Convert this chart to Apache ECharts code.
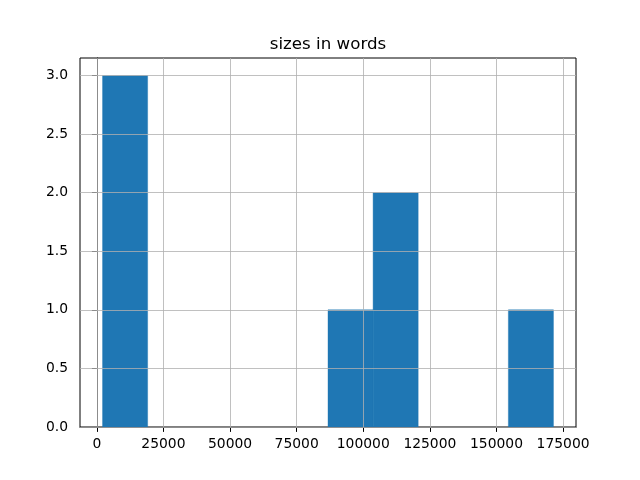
<!DOCTYPE html>
<html>
<head>
<meta charset="utf-8">
<script src="https://cdn.jsdelivr.net/npm/echarts@6/dist/echarts.min.js"></script>
<style>html,body{margin:0;padding:0;background:#fff}#c{width:640px;height:480px}</style>
</head>
<body>
<div id="c"></div>
<script>
// Histogram data (bin edges and counts)
const binStart = 2145;
const binEnd = 171388;
const counts = [3, 0, 0, 0, 0, 1, 2, 0, 0, 1];
const xTicks = [0, 25000, 50000, 75000, 100000, 125000, 150000, 175000];
const yTicks = [0, 0.5, 1.0, 1.5, 2.0, 2.5, 3.0];
const titleText = 'sizes in words';

const nb = counts.length;
const w = (binEnd - binStart) / nb;
const bins = counts.map((c, i) => [binStart + i * w, binStart + (i + 1) * w, c]);
const span = binEnd - binStart;
const xMin = binStart - span * 0.05, xMax = binEnd + span * 0.05;
const yMax = Math.max(...counts) * 1.05;

const font = 'DejaVu Sans';
const chart = echarts.init(document.getElementById('c'), null, {renderer: 'canvas'});
const gridLines = [];
xTicks.forEach(v => gridLines.push({xAxis: v}));
yTicks.forEach(v => gridLines.push({yAxis: v}));

chart.setOption({
  animation: false,
  backgroundColor: '#fff',
  title: {
    text: titleText, left: 323, top: 31, textAlign: 'center',
    textStyle: {fontFamily: font, fontSize: 16.67, fontWeight: 'normal', color: '#000'}
  },
  grid: {left: 80, right: 64, top: 58, bottom: 53, show: true, borderColor: '#000', borderWidth: 1, backgroundColor: 'transparent'},
  xAxis: {
    type: 'value', min: xMin, max: xMax,
    axisLine: {show: true, lineStyle: {color: '#000', width: 1}},
    axisTick: {show: true, length: 4.9, inside: false, lineStyle: {color: '#000', width: 1}, customValues: xTicks},
    axisLabel: {customValues: xTicks, margin: 10, fontFamily: font, fontSize: 13.89, color: '#000', formatter: v => String(v)},
    splitLine: {show: false}
  },
  yAxis: {
    type: 'value', min: 0, max: yMax,
    axisLine: {show: true, lineStyle: {color: '#000', width: 1}},
    axisTick: {show: true, length: 4.9, inside: false, lineStyle: {color: '#000', width: 1}, customValues: yTicks},
    axisLabel: {customValues: yTicks, margin: 12, fontFamily: font, fontSize: 13.89, color: '#000', formatter: v => v.toFixed(1)},
    splitLine: {show: false}
  },
  series: [{
    type: 'custom',
    data: bins,
    encode: {x: [0, 1], y: 2},
    renderItem: function (params, api) {
      const c = api.value(2);
      if (!c) return null;
      const p0 = api.coord([api.value(0), 0]);
      const p1 = api.coord([api.value(1), c]);
      return {
        type: 'rect',
        shape: {x: p0[0], y: p1[1], width: p1[0] - p0[0], height: p0[1] - p1[1]},
        style: {fill: '#1f77b4', stroke: '#1f77b4', lineWidth: 0.4}
      };
    },
    markLine: {
      silent: true, symbol: 'none', animation: false,
      label: {show: false},
      lineStyle: {color: '#b0b0b0', width: 0.8, type: 'solid'},
      emphasis: {disabled: true},
      data: gridLines
    }
  }]
});
</script>
</body>
</html>
